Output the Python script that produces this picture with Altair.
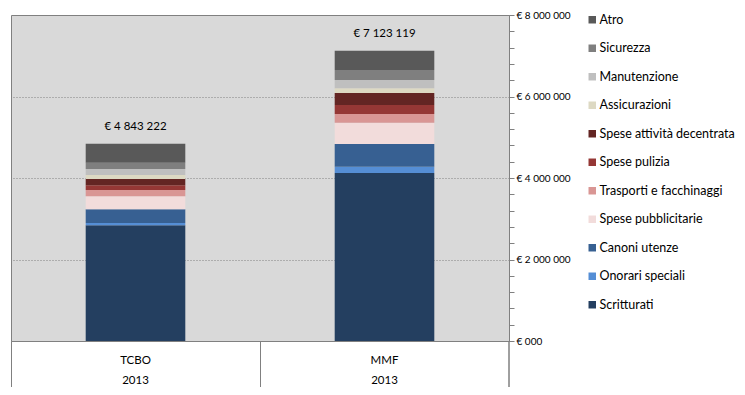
import altair as alt
import pandas as pd

categories = ["TCBO", "MMF"]
years = ["2013", "2013"]
totals = [4843222, 7123119]
total_labels = ["€ 4 843 222", "€ 7 123 119"]

# stack order bottom -> top
series = ["Scritturati", "Onorari speciali", "Canoni utenze", "Spese pubblicitarie",
          "Trasporti e facchinaggi", "Spese pulizia", "Spese attività decentrata",
          "Assicurazioni", "Manutenzione", "Sicurezza", "Atro"]
colors = ["#243F60", "#558ED5", "#376092", "#F2DCDB", "#D99694", "#953735",
          "#632523", "#DDD9C3", "#BFBFBF", "#7F7F7F", "#595959"]
tcbo_values = [2843222, 50000, 340000, 320000, 150000, 120000, 150000, 100000, 150000, 150000, 470000]
mmf_values = [4123119, 150000, 560000, 520000, 220000, 220000, 290000, 120000, 200000, 250000, 470000]

rows = []
for i, s in enumerate(series):
    rows.append({"cat": "TCBO", "serie": s, "val": tcbo_values[i], "idx": i})
    rows.append({"cat": "MMF", "serie": s, "val": mmf_values[i], "idx": i})
df = pd.DataFrame(rows)
tot_df = pd.DataFrame({"cat": categories, "year": years, "total": totals, "label": total_labels})

FONT = "Lato"
W, H = 498, 326

xscale = alt.Scale(domain=categories, paddingInner=0, paddingOuter=0)
yscale = alt.Scale(domain=[0, 8000000], nice=False)

yaxis = alt.Axis(
    orient="right",
    values=list(range(0, 8000001, 400000)),
    tickCount=30,
    labelOverlap=False,
    labelExpr="datum.value % 2000000 === 0 ? '€ ' + (datum.value === 0 ? '000' : replace(replace(format(datum.value, ','), ',', ' '), ',', ' ')) : ''",
    grid=True,
    gridDash=[1, 2],
    gridColor="#808080",
    gridOpacity={"condition": {"test": "datum.value % 2000000 === 0", "value": 1}, "value": 0},
    domainColor="#808080",
    tickColor="#808080",
    tickSize=5,
    labelFont=FONT,
    labelFontSize=10,
    labelColor="#000000",
    labelPadding=2,
    title=None,
)

xaxis = alt.Axis(
    orient="bottom",
    labels=False,
    bandPosition=0,
    tickSize=54,
    tickColor="#808080",
    domainColor="#808080",
    title=None,
    grid=False,
)

bars = alt.Chart(df).mark_bar(width=alt.RelativeBandSize(0.4)).encode(
    x=alt.X("cat:N", scale=xscale, axis=xaxis, sort=categories),
    y=alt.Y("sum(val):Q", scale=yscale, axis=yaxis, stack="zero"),
    color=alt.Color(
        "serie:N",
        scale=alt.Scale(domain=series[::-1], range=colors[::-1]),
        legend=alt.Legend(
            title=None,
            orient="none",
            legendX=575,
            legendY=-1.5,
            symbolType="square",
            symbolSize=56,
            symbolStrokeWidth=0,
            labelFont=FONT,
            labelFontSize=12.5,
            labelColor="#000000",
            labelOffset=1,
            rowPadding=15.5,
            padding=0,
        ),
    ),
    order=alt.Order("idx:Q", sort="ascending"),
)

labels = alt.Chart(tot_df).mark_text(font=FONT, fontSize=11.5, color="#000000", baseline="bottom", dy=-12).encode(
    x=alt.X("cat:N", scale=xscale, sort=categories),
    y=alt.Y("total:Q", scale=yscale),
    text="label:N",
)

cat_text = alt.Chart(tot_df).mark_text(font=FONT, fontSize=11.5, color="#000000", baseline="middle").encode(
    x=alt.X("cat:N", scale=xscale, sort=categories),
    y=alt.value(H + 20),
    text="cat:N",
)

year_text = alt.Chart(tot_df).mark_text(font=FONT, fontSize=11.5, color="#000000", baseline="middle").encode(
    x=alt.X("cat:N", scale=xscale, sort=categories),
    y=alt.value(H + 40),
    text="year:N",
)

right_rule = alt.Chart(tot_df).mark_rule(color="#808080", strokeWidth=1).encode(
    x=alt.value(W), y=alt.value(H), y2=alt.value(H + 54)
)

chart = alt.layer(bars, labels, cat_text, year_text, right_rule).properties(
    width=W,
    height=H,
    background="white",
    autosize=alt.AutoSizeParams(type="none"),
    padding={"left": 3, "top": 7, "right": 228, "bottom": 46},
).configure_view(
    fill="#D9D9D9", stroke="#808080", strokeWidth=1
)

chart.save("out.html", embed_options={"renderer": "svg", "actions": False})
